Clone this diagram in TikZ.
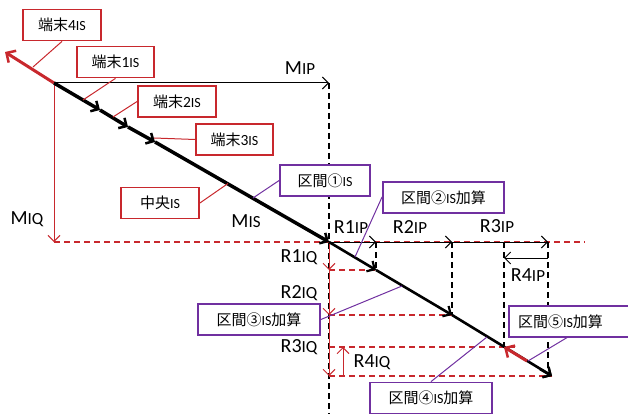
\documentclass[tikz,border=0pt]{standalone}
\usepackage{fontspec}
\setmainfont{Carlito}
\newfontfamily\cjk{Noto Sans CJK JP}
\usetikzlibrary{arrows.meta}
\definecolor{myred}{RGB}{200,40,45}
\definecolor{mypurple}{RGB}{112,48,160}
\newcommand{\smc}[1]{{\fontsize{17}{18}\selectfont #1}}
\newcommand{\bsm}[1]{{\fontsize{14}{15}\selectfont #1}}
\tikzset{
  redbox/.style={draw=myred, line width=1.8pt, fill=white, inner sep=0pt, minimum height=31pt, font=\fontsize{15.5}{17}\selectfont},
  purplebox/.style={draw=mypurple, line width=1.8pt, fill=white, inner sep=0pt, minimum height=31pt, font=\fontsize{15.5}{17}\selectfont},
  redlead/.style={draw=myred, line width=1pt},
  purplelead/.style={draw=mypurple, line width=1pt},
  reddash/.style={draw=myred, line width=1.1pt, dash pattern=on 6pt off 4pt},
  blackdash/.style={draw=black, line width=1.2pt, dash pattern=on 6pt off 4pt},
  dimarrow/.style={line width=1pt, -{Straight Barb[length=6pt,width=12pt]}},
  reddim/.style={draw=myred, line width=1pt, -{Straight Barb[length=6pt,width=12pt]}},
  mainA/.style={line width=3.5pt, -{Straight Barb[length=6pt,width=12pt,line width=2.5pt]}},
  mainB/.style={line width=2.6pt, -{Straight Barb[length=6pt,width=12pt,line width=2.2pt]}},
  lbl/.style={font=\fontsize{20}{22}\selectfont, inner sep=0pt}
}
\newcommand{\jp}[1]{{\fontsize{15}{17}\selectfont\cjk #1}}
\begin{document}
\begin{tikzpicture}[x=1pt,y=-1pt]
\useasboundingbox (0,0) rectangle (628,414);
% key points
\coordinate (O) at (54,83);
\coordinate (P) at (329,83);
\coordinate (Q) at (54,242);
\coordinate (C) at (329,242);
\coordinate (E) at (552,376);
\coordinate (T4) at (5,52);
\coordinate (a1) at (100,110);
\coordinate (a2) at (128,127);
\coordinate (a3) at (155,142);
\coordinate (b1) at (376,270);
\coordinate (b2) at (452,315);
\coordinate (b3) at (504,347);
\coordinate (bottom) at (329,414);
\coordinate (dashR) at (585,242);
\coordinate (x1t) at (376,242);
\coordinate (x2t) at (452,242);
\coordinate (x3t) at (548,242);
\coordinate (x4t) at (504,242);
\coordinate (x2b) at (452,315);
\coordinate (x3b) at (548,376);
\coordinate (y1) at (329,270);
\coordinate (y2) at (329,315);
\coordinate (y3) at (329,347);
\coordinate (y4) at (329,376);
\coordinate (r4a) at (548,258);
\coordinate (r4b) at (504,258);
\coordinate (q4a) at (343,376);
\coordinate (q4b) at (343,347);

% dashed lines
\draw[blackdash] (P) -- (bottom);
\draw[reddash] (Q) -- (dashR);
\draw[reddash] (y1) -- (b1);
\draw[reddash] (y2) -- (x2b);
\draw[reddash] (y3) -- (518,347);
\draw[reddash] (y4) -- (E);
\draw[blackdash] (x1t) -- (b1);
\draw[blackdash] (x2t) -- (x2b);
\draw[blackdash] (x4t) -- (b3);
\draw[blackdash] (x3t) -- (x3b);

% dimension arrows
\draw[dimarrow] (O) -- (P);
\draw[reddim] (O) -- (Q);
\draw[dimarrow] (C) -- (x1t);
\draw[dimarrow] (x1t) -- (x2t);
\draw[dimarrow] (x2t) -- (x3t);
\draw[dimarrow] (r4a) -- (r4b);
\draw[reddim] (C) -- (y1);
\draw[reddim] (y1) -- (y2);
\draw[reddim] (y2) -- (y4);
\draw[reddim] (q4a) -- (q4b);

% main line
\draw[myred, line width=3pt, -{Straight Barb[length=7pt,width=14pt,line width=2.5pt]}] (O) -- (T4);
\draw[mainA] (O) -- (a1);
\draw[mainA] (a1) -- (a2);
\draw[mainA] (a2) -- (a3);
\draw[mainA] (a3) -- (C);
\draw[mainB] (C) -- (b1);
\draw[mainB] (b1) -- (b2);
\draw[mainB] (b2) -- (E);
\draw[myred, line width=3pt, -{Straight Barb[length=7pt,width=14pt,line width=2.5pt]}] (527,361) -- (b3);
\draw[line width=2.6pt, -{Straight Barb[length=6pt,width=12pt,line width=2.2pt]}] (540,369) -- (E);

% labels
\node[lbl] (lMIP) at (300,68) {M\smc{IP}};
\node[lbl] (lMIQ) at (27,219) {M\smc{IQ}};
\node[lbl] (lMIS) at (246,221) {M\smc{IS}};
\node[lbl] (lR1IP) at (351,227) {R1\smc{IP}};
\node[lbl] (lR2IP) at (410,227) {R2\smc{IP}};
\node[lbl] (lR3IP) at (497,226) {R3\smc{IP}};
\node[lbl] (lR4IP) at (528,275) {R4\smc{IP}};
\node[lbl] (lR1IQ) at (299,257) {R1\smc{IQ}};
\node[lbl] (lR2IQ) at (299,293) {R2\smc{IQ}};
\node[lbl] (lR3IQ) at (299,347) {R3\smc{IQ}};
\node[lbl] (lR4IQ) at (372,362) {R4\smc{IQ}};

% boxes
\node[redbox, minimum width=78pt] (t4) at (62,25) {\jp{端末}4\bsm{IS}};
\node[redbox, minimum width=77pt] (t1) at (115.5,62) {\jp{端末}1\bsm{IS}};
\node[redbox, minimum width=78pt] (t2) at (177,101.5) {\jp{端末}2\bsm{IS}};
\node[redbox, minimum width=77pt] (t3) at (234.5,139.5) {\jp{端末}3\bsm{IS}};
\node[redbox, minimum width=78pt] (cen) at (160,203) {\jp{中央}\bsm{IS}};
\node[purplebox, minimum width=90pt] (k1) at (325,180.5) {\jp{区間①}\bsm{IS}};
\node[purplebox, minimum width=121pt] (k2) at (443.5,197.5) {\jp{区間②}\bsm{IS}\jp{加算}};
\node[purplebox, minimum width=122pt] (k3) at (259,319.5) {\jp{区間③}\bsm{IS}\jp{加算}};
\node[purplebox, minimum width=122pt] (k4) at (431,398) {\jp{区間④}\bsm{IS}\jp{加算}};
\node[purplebox, minimum width=122pt, text width=104pt, align=left] (k5) at (570,321.5) {\jp{区間⑤}\bsm{IS}\jp{加算}};

% leaders
\draw[redlead] (t4.south) -- (33,67);
\draw[redlead] (t1.south) -- (83,100);
\draw[redlead] (t2.west) -- (113,117);
\draw[redlead] (t3.west) -- (154,138);
\draw[redlead] (cen.east) -- (228,183.5);
\draw[purplelead] (k1.west) -- (253,198);
\draw[purplelead] (k2.south west) ++(0,-17) -- (355,257);
\draw[purplelead] (k3.east) -- (402,286);
\draw[purplelead] (k4.north) -- (487,337);
\draw[purplelead] (568,337) -- (528,361);
\end{tikzpicture}
\end{document}
